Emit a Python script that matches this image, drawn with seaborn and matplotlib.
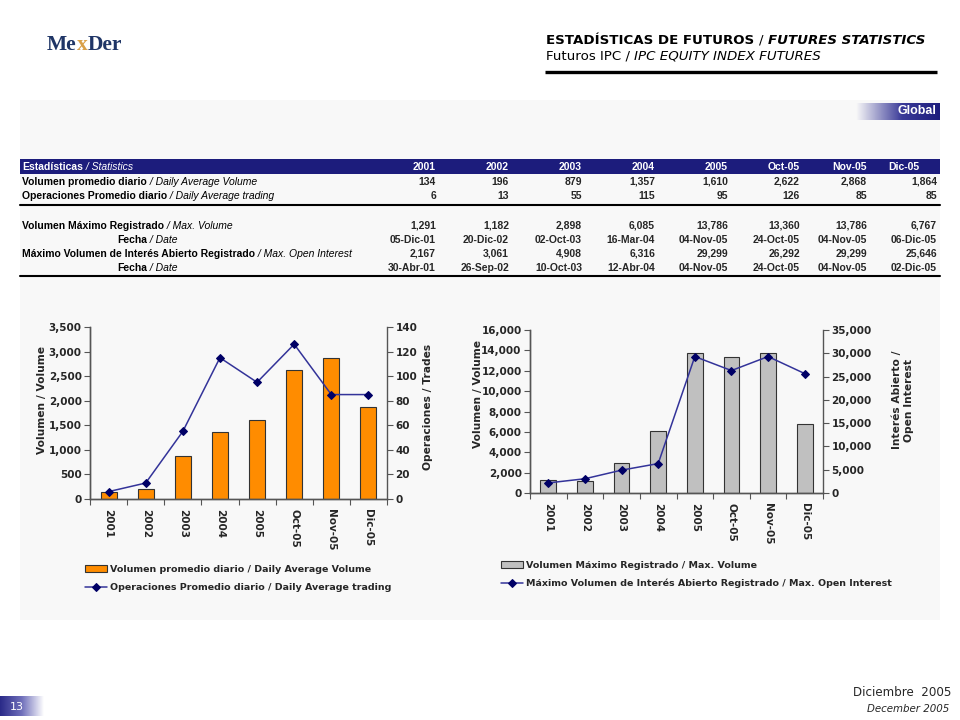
import numpy as np
import matplotlib
matplotlib.use('Agg')
import matplotlib.pyplot as plt
import seaborn as sns
from matplotlib.ticker import StrMethodFormatter
from matplotlib.colors import LinearSegmentedColormap
from matplotlib.patches import Rectangle

# values
periods = ['2001', '2002', '2003', '2004', '2005', 'Oct-05', 'Nov-05', 'Dic-05']
daily_avg_volume = [134, 196, 879, 1357, 1610, 2622, 2868, 1864]
daily_avg_trades = [6, 13, 55, 115, 95, 126, 85, 85]
max_volume = [1291, 1182, 2898, 6085, 13786, 13360, 13786, 6767]
max_volume_date = ['05-Dic-01', '20-Dic-02', '02-Oct-03', '16-Mar-04',
                   '04-Nov-05', '24-Oct-05', '04-Nov-05', '06-Dic-05']
max_open_interest = [2167, 3061, 4908, 6316, 29299, 26292, 29299, 25646]
max_oi_date = ['30-Abr-01', '26-Sep-02', '10-Oct-03', '12-Abr-04',
               '04-Nov-05', '24-Oct-05', '04-Nov-05', '02-Dic-05']

NAVY = '#1c1c7c'
LINE = '#333399'
MARK = '#000066'
SPINE = '#555555'
PANEL = '#f8f8f8'
TABLE_FONT = ['Liberation Sans Narrow', 'Liberation Sans', 'DejaVu Sans']
TS = 7.5  # table font size

sns.set_style('ticks')
plt.rcParams['font.family'] = ['DejaVu Sans']

fig = plt.figure(figsize=(9.6, 7.2), dpi=100)
fig.patch.set_facecolor('white')

# full-page axes in pixel units for the slide furniture
bg = fig.add_axes([0, 0, 1, 1], zorder=0)
bg.axis('off')


def rich(x, y, parts, size, family, color='black'):
    # chain text pieces with different styles on one line
    kw = dict(color=color)
    kw.update(parts[0][1])
    t = bg.text(x, y, parts[0][0], fontsize=size, family=family,
                ha='left', va='center', **kw)
    for s, style in parts[1:]:
        kw = dict(color=color)
        kw.update(style)
        t = bg.annotate(s, xy=(1, 0), xycoords=t, ha='left', va='bottom',
                        fontsize=size, family=family, **kw)


B = dict(fontweight='bold')
I = dict(fontstyle='italic')
BI = dict(fontweight='bold', fontstyle='italic')
N = dict()

# logo
rich(47, 45, [('Me', B), ('x', dict(fontweight='bold', color='#d9a048')), ('Der', B)], 15.5,
     ['Liberation Serif'], color='#1f3566')

# page header
rich(546, 40, [('ESTADÍSTICAS DE FUTUROS ', B), ('/ ', N), ('FUTURES STATISTICS', BI)],
     9.6, ['DejaVu Sans'])
rich(546, 56, [('Futuros IPC / ', N), ('IPC EQUITY INDEX FUTURES', I)], 9.6, ['DejaVu Sans'])
bg.plot([545, 937], [72, 72], color='black', lw=2.4, solid_capstyle='butt')

# grey panel
bg.add_patch(Rectangle((20, 100), 920, 520, facecolor=PANEL, edgecolor='none', zorder=0))

# "Global" tag
tag_cmap = LinearSegmentedColormap.from_list('tag', [(0, PANEL), (0.55, '#3a3a98'), (1, NAVY)])
bg.imshow(np.linspace(0, 1, 128)[None, :], extent=(856, 940, 120, 103), cmap=tag_cmap,
          aspect='auto', zorder=1)
bg.text(936, 111.5, 'Global', ha='right', va='center', color='white', fontsize=9,
        fontweight='bold', family=['Liberation Sans'], zorder=2)

# statistics table
col_right = [436, 509, 582, 655, 728, 800, 867, 937]
bg.add_patch(Rectangle((20, 159), 920, 14.5, facecolor=NAVY, edgecolor='none', zorder=1))
rich(22, 166.5, [('Estadísticas', B), (' / Statistics', I)], TS, TABLE_FONT, color='white')
for i, p in enumerate(periods):
    xr = col_right[i] - (18 if i == len(periods) - 1 else 0)
    bg.text(xr, 166.5, p, ha='right', va='center', color='white', fontsize=TS,
            fontweight='bold', family=TABLE_FONT)

rows = [
    (182, 22, [('Volumen promedio diario', B), (' / Daily Average Volume', I)],
     [f'{v:,}' for v in daily_avg_volume]),
    (196, 22, [('Operaciones Promedio diario', B), (' / Daily Average trading', I)],
     [f'{v:,}' for v in daily_avg_trades]),
    (226, 22, [('Volumen Máximo Registrado', B), (' / Max. Volume', I)],
     [f'{v:,}' for v in max_volume]),
    (240, 117, [('Fecha', B), (' / Date', I)], max_volume_date),
    (254, 22, [('Máximo Volumen de Interés Abierto Registrado', B), (' / Max. Open Interest', I)],
     [f'{v:,}' for v in max_open_interest]),
    (268, 117, [('Fecha', B), (' / Date', I)], max_oi_date),
]
for y, x0, label, cells in rows:
    rich(x0, y, label, TS, TABLE_FONT)
    for xr, c in zip(col_right, cells):
        bg.text(xr, y, c, ha='right', va='center', fontsize=TS, fontweight='bold',
                family=TABLE_FONT)
bg.plot([20, 940], [204.5, 204.5], color='black', lw=1.5)
bg.plot([20, 940], [275.5, 275.5], color='black', lw=1.5)

# page number and date
num_cmap = LinearSegmentedColormap.from_list('num', [(0, '#2a2a88'), (0.5, '#7070bb'), (1, 'white')])
bg.imshow(np.linspace(0, 1, 128)[None, :], extent=(0, 44, 716, 696), cmap=num_cmap,
          aspect='auto', zorder=1)
bg.text(17, 706.5, '13', ha='center', va='center', color='white', fontsize=8, zorder=2)
bg.text(951, 693, 'Diciembre  2005', ha='right', va='center', fontsize=8.6)
bg.text(949, 709, 'December 2005', ha='right', va='center', fontsize=7.4, fontstyle='italic')

bg.set_xlim(0, 960)
bg.set_ylim(720, 0)


def px_axes(left, top, right, bottom):
    return fig.add_axes([left / 960, 1 - bottom / 720, (right - left) / 960, (bottom - top) / 720],
                        zorder=2)


def combo(box, bars, line, bar_color, ylim, ystep, ylim2, ystep2,
          ylabel, ylabel_xy, ylabel2, ylabel2_xy, labels, legend_xy):
    ax = px_axes(*box)
    ax.set_facecolor('none')
    x = np.arange(len(periods))
    sns.barplot(x=periods, y=bars, color=bar_color, saturation=1, width=0.43,
                edgecolor='#333333', linewidth=0.8, ax=ax)
    ax2 = ax.twinx()
    sns.lineplot(x=x, y=line, color=LINE, lw=1.1, marker='D', markersize=4,
                 markerfacecolor=MARK, markeredgecolor=MARK, ax=ax2)
    ax.set_xlim(-0.5, len(periods) - 0.5)

    ax.set_ylim(0, ylim)
    ax.set_yticks(np.arange(0, ylim + 1, ystep))
    ax2.set_ylim(0, ylim2)
    ax2.set_yticks(np.arange(0, ylim2 + 1, ystep2))
    for a in (ax, ax2):
        a.yaxis.set_major_formatter(StrMethodFormatter('{x:,.0f}'))
        a.spines['top'].set_visible(False)
        for s in a.spines.values():
            s.set_color(SPINE)
            s.set_linewidth(1)
        a.tick_params(axis='y', direction='out', length=4, width=0.8, color=SPINE,
                      labelsize=7.5, pad=2)
        for t in a.get_yticklabels():
            t.set_fontweight('bold')
    ax.spines['right'].set_visible(False)

    ax.set_xticks(x)
    ax.set_xticklabels(periods, rotation=-90, fontweight='bold', fontsize=7.5)
    ax.set_xticks(np.arange(-0.5, len(periods), 1), minor=True)
    ax.tick_params(axis='x', which='major', length=0, pad=7)
    ax.tick_params(axis='x', which='minor', direction='out', length=4, width=0.8, color=SPINE)
    ax.set_xlabel('')

    ax.set_ylabel(ylabel, fontweight='bold', fontsize=7.7)
    ax.yaxis.set_label_coords(*ylabel_xy)
    ax.yaxis.label.set_verticalalignment('center')
    ax2.set_ylabel(ylabel2, fontweight='bold', fontsize=7.7, multialignment='center')
    ax2.yaxis.set_label_coords(*ylabel2_xy)
    ax2.yaxis.label.set_verticalalignment('center')

    handles = [ax.containers[0], ax2.lines[0]]
    ax.legend(handles, labels, loc='upper left', bbox_to_anchor=legend_xy,
              bbox_transform=fig.transFigure, frameon=False,
              prop=dict(weight='bold', size=6.8), handlelength=2.3, handletextpad=0.3,
              labelspacing=0.95, borderpad=0, borderaxespad=0)
    return ax, ax2


combo((90, 327, 387, 499), daily_avg_volume, daily_avg_trades, '#ff8c00',
      3500, 500, 140, 20,
      'Volumen / Volume', (-0.162, 0.576), 'Operaciones / Trades', (1.138, 0.535),
      ['Volumen promedio diario / Daily Average Volume',
       'Operaciones Promedio diario / Daily Average trading'],
      (85 / 960, 1 - 565 / 720))

combo((530, 330, 823, 493), max_volume, max_open_interest, '#c0c0c0',
      16000, 2000, 35000, 5000,
      'Volumen / Volume', (-0.177, 0.607), 'Interés Abierto /\nOpen Interest', (1.273, 0.57),
      ['Volumen Máximo Registrado / Max. Volume',
       'Máximo Volumen de Interés Abierto Registrado / Max. Open Interest'],
      (501 / 960, 1 - 561 / 720))

fig.savefig('out.png', dpi=100)
